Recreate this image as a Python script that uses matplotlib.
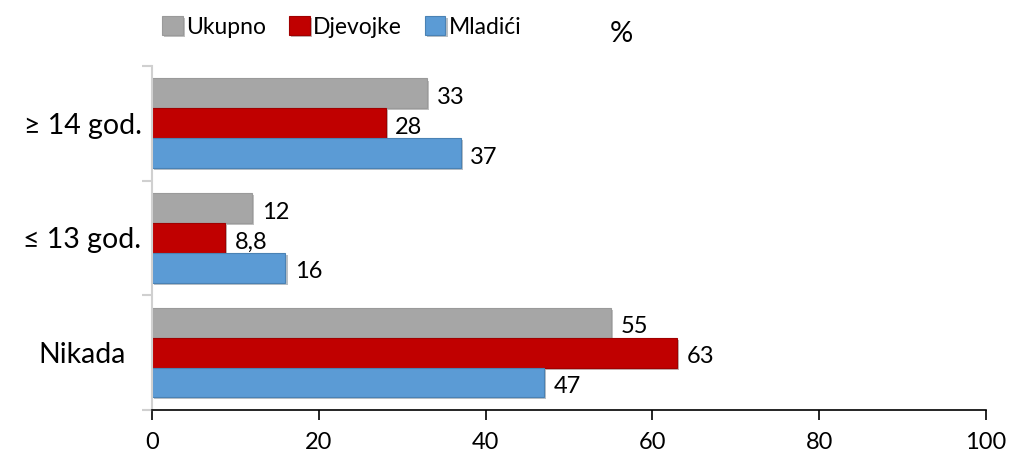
import numpy as np
import matplotlib.pyplot as plt
import matplotlib.patheffects as pe

plt.rcParams['font.family'] = ['Lato', 'DejaVu Sans']

# podaci
kategorije = ["Nikada", "≤ 13 god.", "≥ 14 god."]
ukupno = [55, 12, 33]
djevojke = [63, 8.8, 28]
mladici = [47, 16, 37]
oznake_ukupno = ["55", "12", "33"]
oznake_djevojke = ["63", "8,8", "28"]
oznake_mladici = ["47", "16", "37"]

fig = plt.figure(figsize=(10.1, 4.54), dpi=100)
ax = fig.add_axes([0.1505, 0.097, 0.8257, 0.758])

y = np.arange(len(kategorije))
h = 0.26
sjena = [pe.SimplePatchShadow(offset=(1.5, -1.5), alpha=0.3), pe.Normal()]

b1 = ax.barh(y + h, ukupno, height=h, color="#A6A6A6", edgecolor="#9A9A9A", linewidth=0.8, label="Ukupno")
b2 = ax.barh(y, djevojke, height=h, color="#C00000", edgecolor="#A00000", linewidth=0.8, label="Djevojke")
b3 = ax.barh(y - h, mladici, height=h, color="#5B9BD5", edgecolor="#4A82B4", linewidth=0.8, label="Mladići")
for bars in (b1, b2, b3):
    for b in bars:
        b.set_path_effects(sjena)

#oznake
for vals, labs, off in ((ukupno, oznake_ukupno, h), (djevojke, oznake_djevojke, 0), (mladici, oznake_mladici, -h)):
    for i in range(len(vals)):
        ax.annotate(labs[i], (vals[i], y[i] + off), xytext=(7, -3), textcoords="offset points",
                    va="center", ha="left", fontsize=17)

ax.set_xlim(0, 100)
ax.set_ylim(-0.5, 2.5)
ax.set_xticks([0, 20, 40, 60, 80, 100])
ax.set_yticks(y)
ax.set_yticklabels(kategorije, fontsize=20.5, ha="center")
ax.set_yticks([-0.5, 0.5, 1.5, 2.5], minor=True)
ax.tick_params(axis="y", which="major", length=0, pad=50)
ax.tick_params(axis="y", which="minor", length=7, color="#D0D0D0", width=1.5)
ax.tick_params(axis="x", length=7, width=1.2, labelsize=17, pad=9)

for s in ("top", "right"):
    ax.spines[s].set_visible(False)
ax.spines["left"].set_color("#D0D0D0")
ax.spines["left"].set_linewidth(1.5)
ax.spines["bottom"].set_linewidth(1.2)

fig.legend(handles=[b1, b2, b3], loc="upper left", bbox_to_anchor=(0.14, 1.01), ncol=3,
           frameon=False, fontsize=16.5, handlelength=0.9, handleheight=0.9,
           handletextpad=0.15, columnspacing=1.0)
fig.text(0.615, 0.925, "%", fontsize=21, ha="center", va="center")

fig.savefig("out.png", dpi=100)
